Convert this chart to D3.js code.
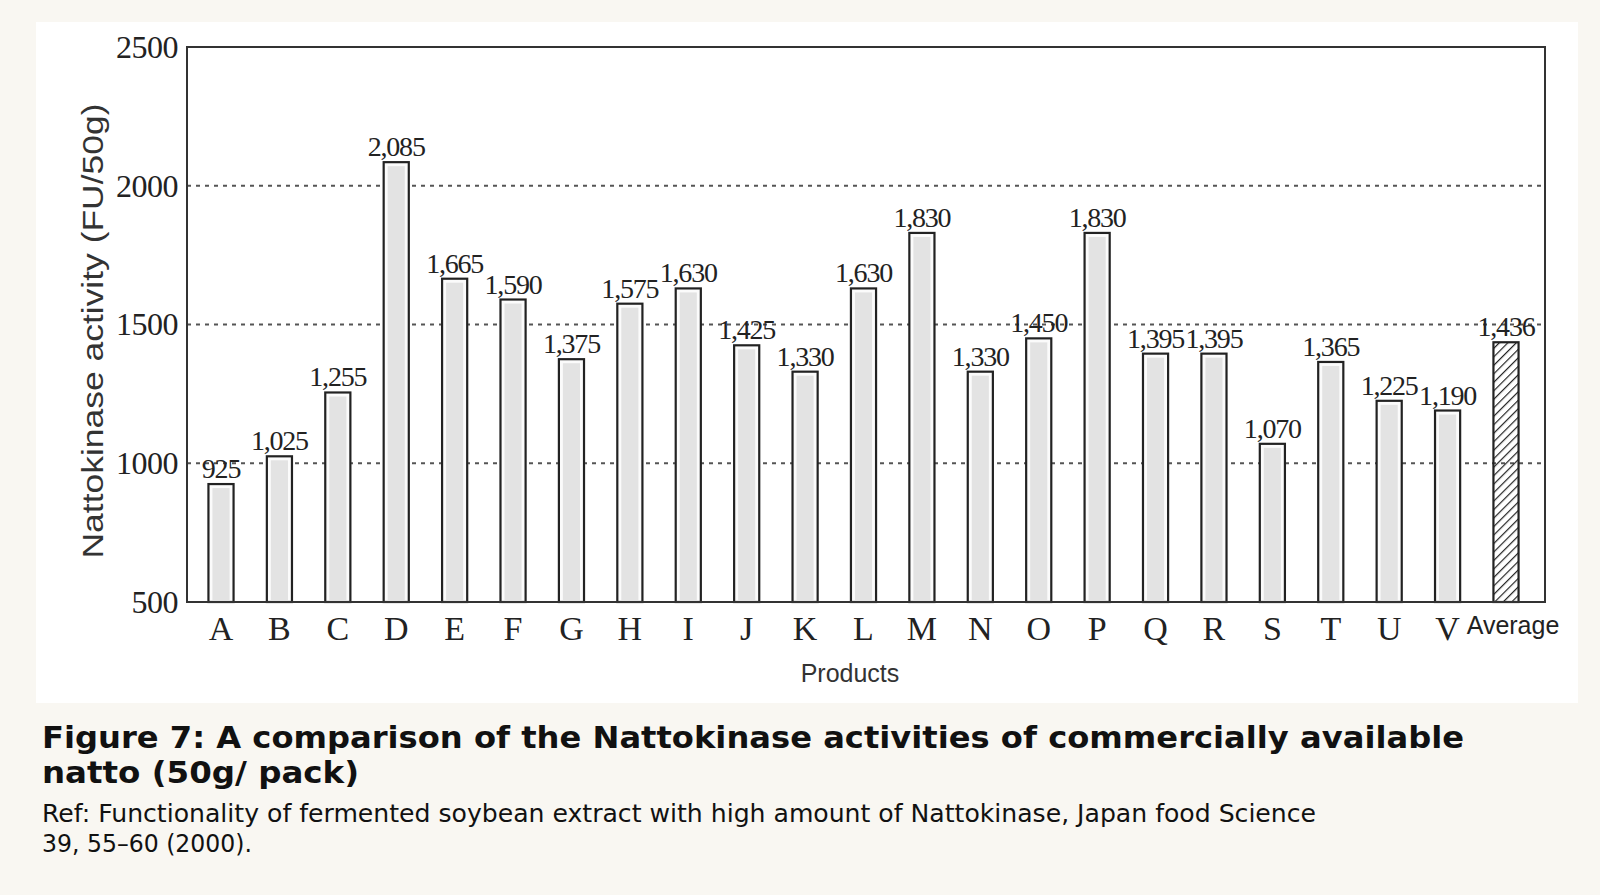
<!DOCTYPE html>
<html>
<head>
<meta charset="utf-8">
<script src="https://cdn.jsdelivr.net/npm/d3@7"></script>
<style>
  html, body { margin: 0; padding: 0; background: #f9f7f2; }
  svg { display: block; }
</style>
</head>
<body>
<svg width="1600" height="895"></svg>
<script>
var products = ["A","B","C","D","E","F","G","H","I","J","K","L","M","N","O","P","Q","R","S","T","U","V","Average"];
var activity = [925,1025,1255,2085,1665,1590,1375,1575,1630,1425,1330,1630,1830,1330,1450,1830,1395,1395,1070,1365,1225,1190,1436];
var yTicks = [500,1000,1500,2000,2500];
var gridValues = [1000,1500,2000];

var fmt = d3.format(",");

window.onload = function(){

  var svg = d3.select('svg');

  var data = products.map(function(p, i){ return { name: p, value: activity[i] } });

  // hatch for the average bar
  var defs = svg.append('defs');
  defs.append('pattern')
      .attr('id', 'hatch')
      .attr('patternUnits', 'userSpaceOnUse')
      .attr('width', 6).attr('height', 6)
      .attr('patternTransform', 'rotate(45)')
    .append('line')
      .attr('x1', 0).attr('y1', 0).attr('x2', 0).attr('y2', 6)
      .attr('stroke', '#222').attr('stroke-width', 2.4);

  // white panel behind the chart
  svg.append('rect')
      .attr('x', 36).attr('y', 22)
      .attr('width', 1542).attr('height', 681)
      .attr('fill', '#ffffff');

  var left = 187, right = 1545, top = 47, bottom = 602;

  var x = d3.scaleBand()
            .domain(products)
            .range([191.8, 1535.2])
            .paddingInner(0.57)
            .paddingOuter(0.285);

  var y = d3.scaleLinear()
            .domain([500, 2500])
            .range([bottom, top]);

  // dotted grid
  svg.selectAll('line.grid')
      .data(gridValues)
      .enter()
      .append('line')
        .attr('class', 'grid')
        .attr('x1', left).attr('x2', right)
        .attr('y1', function(d){ return y(d) })
        .attr('y2', function(d){ return y(d) })
        .attr('stroke', '#555')
        .attr('stroke-width', 2)
        .attr('stroke-dasharray', '4,5');

  // y axis labels
  var yAxis = d3.axisLeft(y).tickValues(yTicks).tickSize(0).tickPadding(9).tickFormat(d3.format('d'));
  var gy = svg.append('g')
      .attr('transform', 'translate(' + left + ',0)')
      .call(yAxis);
  gy.select('.domain').remove();
  gy.selectAll('text')
      .attr('font-family', '"Liberation Serif", "DejaVu Serif", serif')
      .attr('font-size', 32)
      .attr('letter-spacing', -0.5)
      .attr('fill', '#222');

  // x axis labels
  var xAxis = d3.axisBottom(x).tickSize(0).tickPadding(14);
  var gx = svg.append('g')
      .attr('transform', 'translate(0,' + bottom + ')')
      .call(xAxis);
  gx.select('.domain').remove();
  gx.selectAll('text')
      .attr('font-family', function(d){ return d === 'Average' ? '"Liberation Sans", Arial, sans-serif' : '"Liberation Serif", "DejaVu Serif", serif' })
      .attr('font-size', function(d){ return d === 'Average' ? 25 : 34 })
      .attr('dx', function(d){ return d === 'Average' ? 7 : 0 })
      .attr('dy', function(d){ return d === 'Average' ? '0.72em' : '0.71em' })
      .attr('fill', '#222');

  // bars
  var bars = svg.selectAll('g.bar')
      .data(data)
      .enter()
      .append('g')
        .attr('class', 'bar');

  bars.append('rect')
      .attr('x', function(d){ return x(d.name) })
      .attr('y', function(d){ return y(d.value) })
      .attr('width', x.bandwidth())
      .attr('height', function(d){ return bottom - y(d.value) })
      .attr('fill', function(d){ return d.name === 'Average' ? 'url(#hatch)' : '#fbfbfb' })
      .attr('stroke', '#222')
      .attr('stroke-width', 2.2);

  bars.filter(function(d){ return d.name !== 'Average' })
    .append('rect')
      .attr('x', function(d){ return x(d.name) + 4 })
      .attr('y', function(d){ return y(d.value) + 4 })
      .attr('width', x.bandwidth() - 8)
      .attr('height', function(d){ return bottom - y(d.value) - 4 })
      .attr('fill', '#e3e3e3');

  // value labels
  svg.selectAll('text.val')
      .data(data)
      .enter()
      .append('text')
        .attr('class', 'val')
        .attr('x', function(d){ return x(d.name) + x.bandwidth() / 2 })
        .attr('y', function(d){ return y(d.value) - 6 })
        .attr('text-anchor', 'middle')
        .attr('font-family', '"Liberation Serif", "DejaVu Serif", serif')
        .attr('font-size', 28)
        .attr('letter-spacing', -1.2)
        .attr('fill', '#222')
        .text(function(d){ return fmt(d.value) });

  // frame
  svg.append('rect')
      .attr('x', left).attr('y', top)
      .attr('width', right - left).attr('height', bottom - top)
      .attr('fill', 'none')
      .attr('stroke', '#333')
      .attr('stroke-width', 2);

  // axis titles
  svg.append('text')
      .attr('transform', 'translate(103,331) rotate(-90)')
      .attr('text-anchor', 'middle')
      .attr('font-family', '"Liberation Sans", Arial, sans-serif')
      .attr('font-size', 29)
      .attr('textLength', 455).attr('lengthAdjust', 'spacingAndGlyphs')
      .attr('fill', '#333')
      .text('Nattokinase activity (FU/50g)');

  svg.append('text')
      .attr('x', 850).attr('y', 682)
      .attr('text-anchor', 'middle')
      .attr('font-family', '"Liberation Sans", Arial, sans-serif')
      .attr('font-size', 25)
      .attr('fill', '#333')
      .text('Products');

  // caption
  var cap = svg.append('g').attr('fill', '#111');
  cap.append('text')
      .attr('x', 42).attr('y', 748)
      .attr('font-family', '"DejaVu Sans", sans-serif')
      .attr('font-weight', 'bold')
      .attr('font-size', 31)
      .attr('textLength', 1422).attr('lengthAdjust', 'spacingAndGlyphs')
      .text('Figure 7: A comparison of the Nattokinase activities of commercially available');
  cap.append('text')
      .attr('x', 42).attr('y', 783)
      .attr('font-family', '"DejaVu Sans", sans-serif')
      .attr('font-weight', 'bold')
      .attr('font-size', 31)
      .attr('textLength', 317).attr('lengthAdjust', 'spacingAndGlyphs')
      .text('natto (50g/ pack)');
  cap.append('text')
      .attr('x', 42).attr('y', 822)
      .attr('font-family', '"DejaVu Sans", sans-serif')
      .attr('font-size', 24)
      .attr('textLength', 1274).attr('lengthAdjust', 'spacingAndGlyphs')
      .text('Ref: Functionality of fermented soybean extract with high amount of Nattokinase, Japan food Science');
  cap.append('text')
      .attr('x', 42).attr('y', 852)
      .attr('font-family', '"DejaVu Sans", sans-serif')
      .attr('font-size', 24)
      .attr('textLength', 210).attr('lengthAdjust', 'spacingAndGlyphs')
      .text('39, 55–60 (2000).');
};
</script>
</body>
</html>
